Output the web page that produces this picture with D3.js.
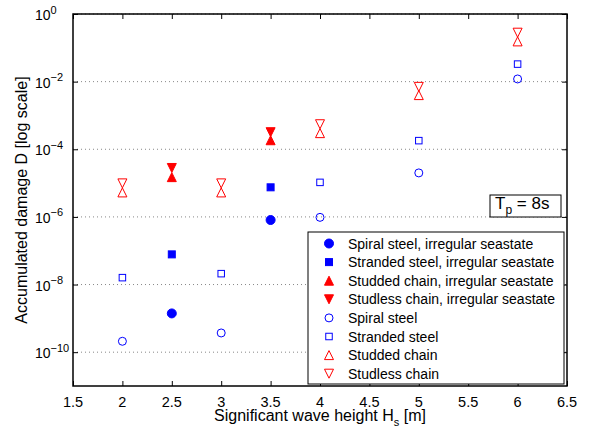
<!DOCTYPE html>
<html>
<head>
<meta charset="utf-8">
<script src="https://cdn.jsdelivr.net/npm/d3@7"></script>
<style>
  body { margin: 0; background: #fff; }
  svg { font-family: "Liberation Sans", Arial, Helvetica, sans-serif; }
  .axis path { display: none; }
  .axis line { stroke: #000; }
</style>
</head>
<body>
<svg id="chart"></svg>
<script>
// data (Tp = 8s)
let irregHs = [2.5, 3.5];
let spiralIrreg = [1.4e-9, 8.1e-7];
let strandedIrreg = [7.8e-8, 7.5e-6];
let studdedIrreg = [1.5e-5, 1.85e-4];
let studlessIrreg = [2.8e-5, 3.2e-4];

let hs = [2, 3, 4, 5, 6];
let spiral = [2.1e-10, 3.7e-10, 9.7e-7, 2.0e-5, 1.2e-2];
let stranded = [1.6e-8, 2.1e-8, 1.05e-5, 1.8e-4, 3.3e-2];
let studded = [5.3e-6, 5.3e-6, 3.0e-4, 4.0e-3, 0.155];
let studless = [9.8e-6, 9.8e-6, 5.5e-4, 7.0e-3, 0.28];

let xTicks = [1.5, 2, 2.5, 3, 3.5, 4, 4.5, 5, 5.5, 6, 6.5];
let yExponents = [0, -2, -4, -6, -8, -10];

let legendLabels = [
  "Spiral steel, irregular seastate",
  "Stranded steel, irregular seastate",
  "Studded chain, irregular seastate",
  "Studless chain, irregular seastate",
  "Spiral steel",
  "Stranded steel",
  "Studded chain",
  "Studless chain"
];

let config = {
  svg: { width: 590, height: 427 },
  plot: { x: 73, y: 14, width: 494, height: 372 }
};

let blue = "#0000ff";
let red = "#ff0000";

let svg = d3.select("svg#chart")
  .attr("width", config.svg.width)
  .attr("height", config.svg.height);

let scale = {};
scale.x = d3.scaleLinear().domain([1.5, 6.5]).range([0, config.plot.width]);
scale.y = d3.scaleLog().domain([1e-11, 1]).range([config.plot.height, 0]);

let plot = svg.append("g")
  .attr("transform", translate(config.plot.x, config.plot.y));

// dotted grid
plot.append("g").selectAll("line")
  .data(yExponents)
  .enter()
  .append("line")
  .attr("x1", 0)
  .attr("x2", config.plot.width)
  .attr("y1", d => scale.y(Math.pow(10, d)))
  .attr("y2", d => scale.y(Math.pow(10, d)))
  .attr("stroke", "#888")
  .attr("stroke-width", 1)
  .attr("stroke-dasharray", "1,3");

// axes with inward ticks on all four sides
let yVals = yExponents.map(e => Math.pow(10, e));
let tick = 5;
plot.append("g").attr("class", "axis")
  .attr("transform", translate(0, config.plot.height))
  .call(d3.axisBottom(scale.x).tickValues(xTicks).tickSize(-tick).tickFormat(""));
plot.append("g").attr("class", "axis")
  .call(d3.axisTop(scale.x).tickValues(xTicks).tickSize(-tick).tickFormat(""));
plot.append("g").attr("class", "axis")
  .call(d3.axisLeft(scale.y).tickValues(yVals).tickSize(-tick).tickFormat(""));
plot.append("g").attr("class", "axis")
  .attr("transform", translate(config.plot.width, 0))
  .call(d3.axisRight(scale.y).tickValues(yVals).tickSize(-tick).tickFormat(""));

plot.append("rect")
  .attr("width", config.plot.width)
  .attr("height", config.plot.height)
  .attr("fill", "none")
  .attr("stroke", "#000")
  .attr("stroke-width", 1.5);

// tick labels
plot.append("g").selectAll("text")
  .data(xTicks)
  .enter()
  .append("text")
  .attr("x", d => scale.x(d))
  .attr("y", config.plot.height + 21)
  .attr("text-anchor", "middle")
  .attr("font-size", "14.5px")
  .text(d => d);

let yLab = plot.append("g").selectAll("text")
  .data(yExponents)
  .enter()
  .append("text")
  .attr("x", -38)
  .attr("y", d => scale.y(Math.pow(10, d)) + 6)
  .attr("text-anchor", "start")
  .attr("font-size", "14px");
yLab.append("tspan").text("10");
yLab.append("tspan")
  .attr("dy", -6.5)
  .attr("font-size", "11px")
  .text(d => d === 0 ? "0" : "\u2212" + Math.abs(d));

// marker shapes
function circle(g, fill, color) {
  g.append("circle").attr("r", fill ? 4.5 : 4)
    .attr("fill", fill ? color : "none")
    .attr("stroke", color).attr("stroke-width", 1);
}
function square(g, fill, color) {
  let s = fill ? 7 : 6.5;
  g.append("rect").attr("x", -s / 2).attr("y", -s / 2)
    .attr("width", s).attr("height", s)
    .attr("fill", fill ? color : "none")
    .attr("stroke", color).attr("stroke-width", 1);
}
function triUp(g, fill, color) {
  g.append("path").attr("d", "M0,-4.5L4.5,4.5L-4.5,4.5Z")
    .attr("fill", fill ? color : "none")
    .attr("stroke", color).attr("stroke-width", 1);
}
function triDown(g, fill, color) {
  g.append("path").attr("d", "M0,4.5L4.5,-4.5L-4.5,-4.5Z")
    .attr("fill", fill ? color : "none")
    .attr("stroke", color).attr("stroke-width", 1);
}

let series = [
  { x: irregHs, y: spiralIrreg, shape: circle, fill: true, color: blue },
  { x: irregHs, y: strandedIrreg, shape: square, fill: true, color: blue },
  { x: irregHs, y: studdedIrreg, shape: triUp, fill: true, color: red },
  { x: irregHs, y: studlessIrreg, shape: triDown, fill: true, color: red },
  { x: hs, y: spiral, shape: circle, fill: false, color: blue },
  { x: hs, y: stranded, shape: square, fill: false, color: blue },
  { x: hs, y: studded, shape: triUp, fill: false, color: red },
  { x: hs, y: studless, shape: triDown, fill: false, color: red }
];

series.forEach(function(s) {
  let pts = s.x.map((x, i) => ({ x: x, y: s.y[i] }));
  plot.append("g").selectAll("g")
    .data(pts)
    .enter()
    .append("g")
    .attr("transform", d => translate(scale.x(d.x), scale.y(d.y)))
    .each(function() { s.shape(d3.select(this), s.fill, s.color); });
});

// Tp box
let tp = svg.append("g").attr("transform", translate(490, 195));
tp.append("rect").attr("width", 71).attr("height", 22)
  .attr("fill", "#fff").attr("stroke", "#000").attr("stroke-width", 1);
let tpText = tp.append("text").attr("x", 5).attr("y", 13.5).attr("font-size", "17px");
tpText.append("tspan").text("T");
tpText.append("tspan").attr("dy", 5.5).attr("font-size", "12px").text("p");
tpText.append("tspan").attr("dy", -5.5).text(" = 8s");

// legend
let legend = svg.append("g").attr("transform", translate(308, 232));
legend.append("rect").attr("width", 256).attr("height", 152)
  .attr("fill", "#fff").attr("stroke", "#000").attr("stroke-width", 1);
let rows = legend.selectAll("g.row")
  .data(series)
  .enter()
  .append("g")
  .attr("class", "row")
  .attr("transform", (d, i) => translate(21, 11.5 + i * 18.6));
rows.each(function(d) { d.shape(d3.select(this), d.fill, d.color); });
rows.append("text")
  .attr("x", 19)
  .attr("y", 5)
  .attr("font-size", "14px")
  .text((d, i) => legendLabels[i]);

// axis titles
let xt = svg.append("text")
  .attr("x", config.plot.x + config.plot.width / 2)
  .attr("y", 421)
  .attr("text-anchor", "middle")
  .attr("font-size", "16px");
xt.append("tspan").text("Significant wave height H");
xt.append("tspan").attr("dy", 5).attr("font-size", "11px").text("s");
xt.append("tspan").attr("dy", -5).text(" [m]");

svg.append("text")
  .attr("transform", "translate(27," + (config.plot.y + config.plot.height / 2) + ") rotate(-90)")
  .attr("text-anchor", "middle")
  .attr("font-size", "16px")
  .text("Accumulated damage D [log scale]");

function translate(x, y) {
  return "translate(" + x + "," + y + ")";
}
</script>
</body>
</html>
